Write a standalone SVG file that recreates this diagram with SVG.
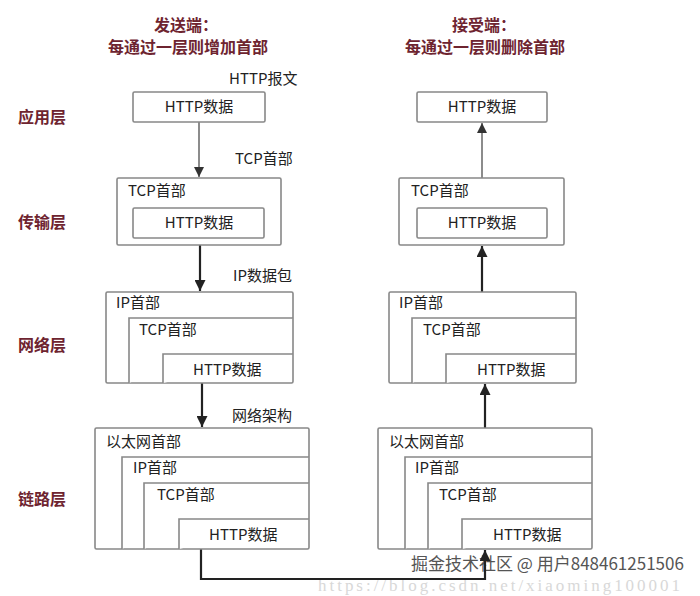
<svg xmlns="http://www.w3.org/2000/svg" width="700" height="596" viewBox="0 0 700 596">
<style>
.box{fill:#fff;stroke:#888;stroke-width:1.6}
.t{font-family:"Noto Sans CJK SC","Liberation Sans",sans-serif;font-size:15px;fill:#222}
.tm{text-anchor:middle}
.title{font-family:"Noto Sans CJK SC",sans-serif;font-size:16px;font-weight:bold;fill:#6e2430;text-anchor:middle}
.layer{font-family:"Noto Sans CJK SC",sans-serif;font-size:16px;font-weight:bold;fill:#6e2430}
.c1{fill:none;stroke:#666;stroke-width:1.5}
.c2{fill:none;stroke:#222;stroke-width:2.2}
.wm{font-family:"Noto Sans CJK SC",sans-serif;font-size:17px;fill:#555;stroke:#fff;stroke-width:0.6;paint-order:stroke}
.url{font-family:"Liberation Serif",serif;font-size:17px;fill:#d8d8d8}
</style>
<defs>
<marker id="ah" viewBox="0 0 10 10" refX="10" refY="5" markerWidth="10" markerHeight="12" markerUnits="userSpaceOnUse" orient="auto">
<path d="M0,0 L10,5 L0,10 z" fill="#333"/>
</marker>
<marker id="ah2" viewBox="0 0 10 10" refX="10" refY="5" markerWidth="16" markerHeight="11" markerUnits="userSpaceOnUse" orient="auto">
<path d="M0,0 L10,5 L0,10 z" fill="#222"/>
</marker>
</defs>

<g id="titles">
<text class="title" x="186" y="31">发送端：</text>
<text class="title" x="188" y="53">每通过一层则增加首部</text>
<text class="title" x="484" y="31">接受端：</text>
<text class="title" x="485" y="53">每通过一层则删除首部</text>
</g>

<g id="layers">
<text class="layer" x="18" y="123">应用层</text>
<text class="layer" x="18" y="228">传输层</text>
<text class="layer" x="18" y="351">网络层</text>
<text class="layer" x="18" y="505">链路层</text>
</g>

<g id="watermark">
<text class="url" x="318" y="591" textLength="362" lengthAdjust="spacing">https://blog.csdn.net/xiaoming100001</text>
<text class="wm" x="411" y="570">掘金技术社区 @ 用户848461251506</text>
</g>

<g id="connectors">
<path class="c1" d="M199,122 V177" marker-end="url(#ah)"/>
<path class="c2" d="M200,245 V291" marker-end="url(#ah2)"/>
<path class="c2" d="M202,383 V427" marker-end="url(#ah2)"/>
<path class="c2" d="M201,549 V579 H485 V550" marker-end="url(#ah2)"/>
<path class="c2" d="M485,428 V384" marker-end="url(#ah2)"/>
<path class="c2" d="M482,292 V246" marker-end="url(#ah2)"/>
<path class="c1" d="M482,178 V123" marker-end="url(#ah)"/>
</g>

<g id="labels">
<text class="t" x="229" y="84">HTTP报文</text>
<text class="t" x="235" y="164">TCP首部</text>
<text class="t" x="233" y="281">IP数据包</text>
<text class="t" x="232" y="421">网络架构</text>
</g>

<g id="s-app">
<rect class="box" x="133" y="92" width="132" height="30" rx="1.5"/>
<text class="t tm" x="199" y="112">HTTP数据</text>
</g>

<g id="s-tcp">
<rect class="box" x="117" y="178" width="164" height="67" rx="1.5"/>
<text class="t" x="128" y="196">TCP首部</text>
<rect class="box" x="133" y="208" width="131" height="30" rx="1.5"/>
<text class="t tm" x="199" y="228">HTTP数据</text>
</g>

<g id="s-ip">
<rect class="box" x="106" y="292" width="187" height="91" rx="1.5"/>
<text class="t" x="116" y="308">IP首部</text>
<path class="box" d="M129,383 V318 H293"/>
<text class="t" x="139" y="335">TCP首部</text>
<path class="box" d="M163,383 V354 H293"/>
<text class="t" x="193" y="375">HTTP数据</text>
</g>

<g id="s-eth">
<rect class="box" x="95" y="428" width="214" height="121" rx="1.5"/>
<text class="t" x="106" y="447">以太网首部</text>
<path class="box" d="M122,549 V457 H309"/>
<text class="t" x="133" y="473">IP首部</text>
<path class="box" d="M144,549 V483 H309"/>
<text class="t" x="157" y="500">TCP首部</text>
<path class="box" d="M179,549 V519 H309"/>
<text class="t" x="209" y="540">HTTP数据</text>
</g>

<g id="r-app">
<rect class="box" x="417" y="92" width="130" height="30" rx="1.5"/>
<text class="t tm" x="482" y="112">HTTP数据</text>
</g>

<g id="r-tcp">
<rect class="box" x="399" y="178" width="165" height="67" rx="1.5"/>
<text class="t" x="411" y="196">TCP首部</text>
<rect class="box" x="417" y="208" width="130" height="30" rx="1.5"/>
<text class="t tm" x="482" y="228">HTTP数据</text>
</g>

<g id="r-ip">
<rect class="box" x="389" y="292" width="187" height="91" rx="1.5"/>
<text class="t" x="399" y="308">IP首部</text>
<path class="box" d="M412,383 V318 H576"/>
<text class="t" x="423" y="335">TCP首部</text>
<path class="box" d="M446,383 V354 H576"/>
<text class="t" x="477" y="375">HTTP数据</text>
</g>

<g id="r-eth">
<rect class="box" x="378" y="428" width="214" height="121" rx="1.5"/>
<text class="t" x="389" y="447">以太网首部</text>
<path class="box" d="M405,549 V457 H592"/>
<text class="t" x="415" y="473">IP首部</text>
<path class="box" d="M428,549 V483 H592"/>
<text class="t" x="439" y="500">TCP首部</text>
<path class="box" d="M462,549 V519 H592"/>
<text class="t" x="493" y="540">HTTP数据</text>
</g>
</svg>
